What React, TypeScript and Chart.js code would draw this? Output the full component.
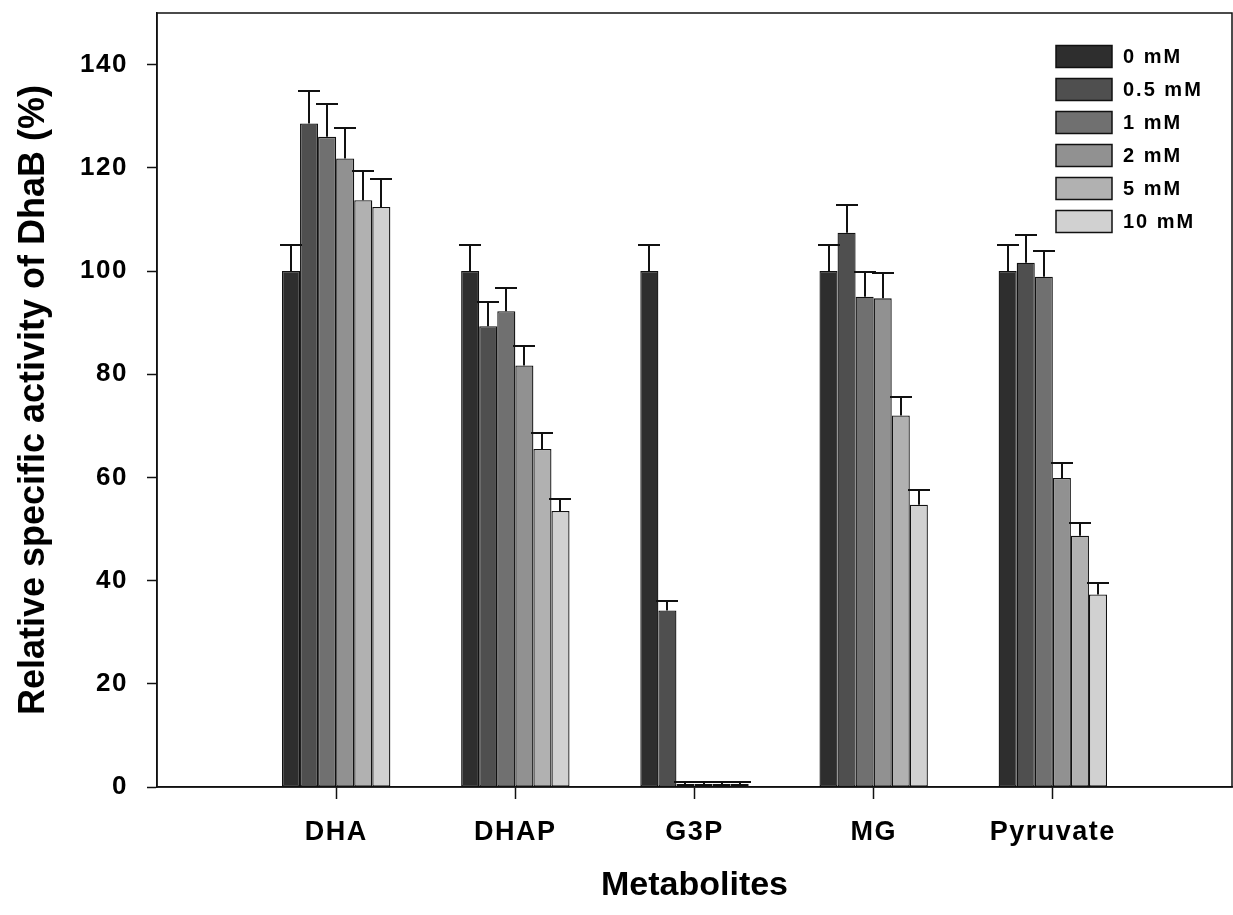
import React, { useEffect, useRef } from 'react';
import { Chart, registerables } from 'chart.js';

Chart.register(...registerables);

const categories = ['DHA', 'DHAP', 'G3P', 'MG', 'Pyruvate'];
const seriesLabels = ['0 mM', '0.5 mM', '1 mM', '2 mM', '5 mM', '10 mM'];

const values0mM = [100, 100, 100, 100, 100];
const values05mM = [128.6, 89.3, 34.2, 107.4, 101.6];
const values1mM = [126.0, 92.2, 0.6, 95.0, 98.9];
const values2mM = [121.8, 81.7, 0.6, 94.7, 59.9];
const values5mM = [113.7, 65.5, 0.6, 72.0, 48.7];
const values10mM = [112.4, 53.5, 0.6, 54.7, 37.3];

const errors0mM = [5.0, 5.0, 5.0, 5.0, 5.0];
const errors05mM = [6.3, 4.7, 1.8, 5.3, 5.4];
const errors1mM = [6.3, 4.6, 0.4, 4.9, 4.9];
const errors2mM = [6.0, 3.8, 0.4, 4.9, 2.9];
const errors5mM = [5.7, 3.2, 0.4, 3.6, 2.4];
const errors10mM = [5.5, 2.4, 0.4, 2.9, 2.2];

const seriesValues = [values0mM, values05mM, values1mM, values2mM, values5mM, values10mM];
const seriesErrors = [errors0mM, errors05mM, errors1mM, errors2mM, errors5mM, errors10mM];
const seriesColors = ['#2e2e2e', '#4f4f4f', '#707070', '#919191', '#b1b1b1', '#d1d1d1'];

const yTicks = [0, 20, 40, 60, 80, 100, 120, 140];
const yTitle = 'Relative specific activity of DhaB (%)';
const xTitle = 'Metabolites';

const FONT = '"Liberation Sans", Arial, Helvetica, sans-serif';
const INK = '#111111';

const decorPlugin = {
  id: 'decor',
  beforeDraw(chart: any) {
    const ctx = chart.ctx as any;
    ctx.letterSpacing = '1.5px';
  },
  afterDatasetsDraw(chart: any) {
    const ctx = chart.ctx;
    const yScale = chart.scales.y;
    ctx.save();
    ctx.strokeStyle = INK;
    ctx.lineWidth = 2;
    chart.data.datasets.forEach((ds: any, di: number) => {
      const meta = chart.getDatasetMeta(di);
      meta.data.forEach((bar: any, i: number) => {
        const v = ds.data[i];
        if (v === null || v === undefined) return;
        const e = ds.errors[i];
        const yTop = Math.round(yScale.getPixelForValue(v + e));
        const x = Math.round(bar.x);
        ctx.beginPath();
        ctx.moveTo(x, bar.y);
        ctx.lineTo(x, yTop);
        ctx.moveTo(x - 11, yTop);
        ctx.lineTo(x + 11, yTop);
        ctx.stroke();
      });
    });
    ctx.restore();
  },
  afterDraw(chart: any) {
    const ctx = chart.ctx as any;
    const a = chart.chartArea;
    ctx.save();
    // frame
    ctx.strokeStyle = INK;
    ctx.lineWidth = 1.5;
    ctx.strokeRect(a.left, a.top, a.right - a.left, a.bottom - a.top);

    // legend
    const boxX = 1056;
    const boxW = 56;
    const boxH = 22;
    const rowH = 33;
    const firstCenter = 56.5;
    chart.data.datasets.forEach((ds: any, i: number) => {
      const cy = firstCenter + i * rowH;
      ctx.fillStyle = ds.backgroundColor;
      ctx.fillRect(boxX, cy - boxH / 2, boxW, boxH);
      ctx.lineWidth = 1.5;
      ctx.strokeStyle = INK;
      ctx.strokeRect(boxX, cy - boxH / 2, boxW, boxH);
      ctx.fillStyle = '#000';
      ctx.font = `bold 20px ${FONT}`;
      ctx.letterSpacing = '2px';
      ctx.textAlign = 'left';
      ctx.textBaseline = 'middle';
      ctx.fillText(ds.label, 1123, cy + 1);
    });

    // axis titles
    ctx.letterSpacing = '0px';
    ctx.fillStyle = '#000';
    ctx.font = `bold 34px ${FONT}`;
    ctx.textAlign = 'center';
    ctx.textBaseline = 'middle';
    ctx.fillText(xTitle, (a.left + a.right) / 2, 886);
    ctx.translate(34, (a.top + a.bottom) / 2);
    ctx.rotate(-Math.PI / 2);
    ctx.font = `bold 36px ${FONT}`;
    ctx.fillText(yTitle, 0, 0);
    ctx.restore();
  },
};

export default function App() {
  const canvasRef = useRef<HTMLCanvasElement | null>(null);

  useEffect(() => {
    const canvas = canvasRef.current;
    if (!canvas) return;
    const labels = ['', ...categories, ''];
    const datasets = seriesLabels.map((label, si) => ({
      label,
      data: [null, ...seriesValues[si], null],
      errors: [null, ...seriesErrors[si], null],
      backgroundColor: seriesColors[si],
      borderColor: INK,
      borderWidth: 1.3,
      borderSkipped: false,
      barPercentage: 1.0,
      categoryPercentage: 0.605,
    }));

    const chart = new Chart(canvas, {
      type: 'bar',
      data: { labels, datasets: datasets as any },
      plugins: [decorPlugin],
      options: {
        responsive: false,
        animation: false,
        devicePixelRatio: 1,
        layout: { padding: { left: 0, top: 13, right: 1, bottom: 0 } },
        plugins: {
          legend: { display: false },
          tooltip: { enabled: false },
          title: { display: false },
        },
        scales: {
          x: {
            type: 'category',
            offset: false,
            afterFit: (s: any) => {
              s.height = 128;
              s.paddingLeft = 0;
              s.paddingRight = 0;
            },
            grid: {
              offset: false,
              drawOnChartArea: false,
              drawTicks: true,
              tickLength: 12,
              tickWidth: 1.5,
              tickColor: (c: any) =>
                c.index === 0 || c.index === categories.length + 1 ? 'rgba(0,0,0,0)' : INK,
            },
            border: { display: true, color: INK, width: 1.5 },
            ticks: {
              autoSkip: false,
              maxRotation: 0,
              minRotation: 0,
              padding: 17,
              color: '#000',
              font: { family: FONT, size: 27, weight: 'bold' },
            },
          },
          y: {
            min: 0,
            max: 150,
            afterFit: (s: any) => {
              s.width = 157;
              s.paddingTop = 0;
              s.paddingBottom = 0;
            },
            afterBuildTicks: (s: any) => {
              s.ticks = yTicks.map((v) => ({ value: v }));
            },
            grid: {
              drawOnChartArea: false,
              drawTicks: true,
              tickLength: 10,
              tickWidth: 1.5,
              tickColor: INK,
            },
            border: { display: true, color: INK, width: 1.5 },
            ticks: {
              padding: 19,
              color: '#000',
              font: { family: FONT, size: 26, weight: 'bold' },
            },
          },
        },
      } as any,
    });
    return () => chart.destroy();
  }, []);

  return (
    <div style={{ position: 'absolute', left: 0, top: 0, width: 1233, height: 915, background: '#fff' }}>
      <canvas ref={canvasRef} width={1233} height={915} style={{ display: 'block' }} />
    </div>
  );
}
